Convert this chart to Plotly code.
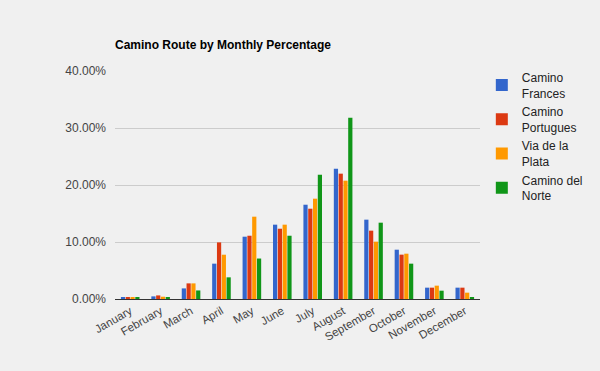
import plotly.graph_objects as go

months = ["January", "February", "March", "April", "May", "June", "July",
          "August", "September", "October", "November", "December"]
frances = [0.3, 0.46, 1.86, 6.2, 10.93, 13.04, 16.54, 22.87, 13.92, 8.65, 1.99, 1.99]
portugues = [0.3, 0.63, 2.74, 9.93, 11.1, 12.33, 15.84, 21.99, 11.99, 7.78, 1.99, 1.99]
plata = [0.3, 0.4, 2.74, 7.77, 14.44, 13.04, 17.6, 20.76, 10.06, 7.95, 2.34, 1.11]
norte = [0.28, 0.28, 1.5, 3.8, 7.1, 11.1, 21.8, 31.81, 13.39, 6.2, 1.46, 0.35]

y_tick_values = [0, 10, 20, 30, 40]
y_tick_labels = ["0.00%", "10.00%", "20.00%", "30.00%", "40.00%"]

series = [
    ("Camino<br>Frances", frances, "#3366cc"),
    ("Camino<br>Portugues", portugues, "#dc3912"),
    ("Via de la<br>Plata", plata, "#ff9900"),
    ("Camino del<br>Norte", norte, "#109618"),
]

fig = go.Figure()
for name, vals, color in series:
    fig.add_trace(go.Bar(x=months, y=vals, name=name, marker_color=color,
                         marker_line_width=0))

fig.update_layout(
    width=600, height=371,
    paper_bgcolor="#f0f0f0", plot_bgcolor="#f0f0f0",
    margin=dict(l=115, r=113, t=71, b=72),
    font=dict(family="Liberation Sans, Arial, sans-serif", size=11, color="#444444"),
    title=dict(text="<b>Camino Route by Monthly Percentage</b>",
               x=115/600, xanchor="left", y=1 - 45/371, yanchor="middle",
               font=dict(size=12, color="#000000")),
    barmode="group", bargap=0.37, bargroupgap=0.12,
    showlegend=True,
    legend=dict(x=1.005, xanchor="left", y=1.035, yanchor="top",
                font=dict(size=12, color="#222222"), tracegroupgap=6,
                bgcolor="rgba(0,0,0,0)"),
    xaxis=dict(tickangle=-30, showgrid=False, showline=True, linecolor="#333333",
               linewidth=1, ticks="", tickfont=dict(size=11.5, color="#444444")),
    yaxis=dict(range=[0, 40], tickvals=y_tick_values, ticktext=y_tick_labels,
               gridcolor="#cccccc", zeroline=False, ticklabelstandoff=8,
               showline=False, ticks="", tickfont=dict(size=12, color="#444444")),
)

fig.write_html("out.html", config={"displayModeBar": False},
               post_script="document.body.style.margin='0';document.body.style.padding='0';document.body.style.overflow='hidden';")
